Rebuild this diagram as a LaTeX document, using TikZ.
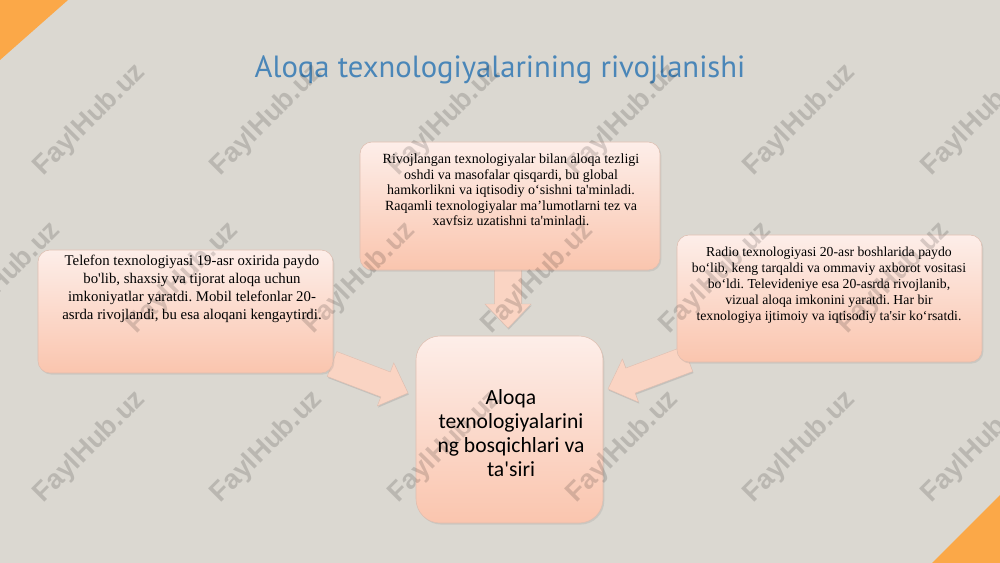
\documentclass[tikz,border=0pt]{standalone}
\usepackage{fontspec}
\setmainfont{Liberation Serif}
\newfontfamily\calfont{Carlito}
\newfontfamily\titlefont{PT Sans}
\newfontfamily\wmfont{Liberation Sans}
\usetikzlibrary{calc,shadows}
\definecolor{bgc}{RGB}{219,216,209}
\definecolor{orng}{RGB}{251,168,72}
\definecolor{titleblue}{RGB}{74,134,184}
\definecolor{boxtop}{RGB}{253,238,233}
\definecolor{boxbot}{RGB}{250,197,174}
\definecolor{boxline}{RGB}{222,190,176}
\definecolor{arrowfill}{RGB}{250,212,195}
\tikzset{
  box/.style={rectangle, rounded corners=9pt, top color=boxtop, bottom color=boxbot,
    draw=boxline, line width=0.4pt,
    drop shadow={opacity=0.18, shadow xshift=1pt, shadow yshift=-1.2pt}},
  txt/.style={align=center, inner sep=0pt, text=black},
  blockarrow/.style={fill=arrowfill, draw=boxline, line width=0.3pt,
    drop shadow={opacity=0.25, shadow xshift=0.6pt, shadow yshift=-1.2pt}},
  wm/.style={font=\wmfont\bfseries\fontsize{20.5}{20.5}\selectfont, text=black, text opacity=0.15, rotate=45, inner sep=0pt}
}
\newcommand{\blockarr}[2]{%
  \path[blockarrow]
    ($(#1)!10pt!90:(#2)$) --
    ($($(#2)!18pt!(#1)$)!10pt!-90:(#1)$) --
    ($($(#2)!18pt!(#1)$)!17.25pt!-90:(#1)$) --
    (#2) --
    ($($(#2)!18pt!(#1)$)!17.25pt!90:(#1)$) --
    ($($(#2)!18pt!(#1)$)!10pt!90:(#1)$) --
    ($(#1)!10pt!-90:(#2)$) -- cycle;}
\begin{document}
\frenchspacing
\begin{tikzpicture}[x=0.75pt,y=-0.75pt]
\useasboundingbox (0,0) rectangle (1000,563);
\fill[bgc] (0,0) rectangle (1000,563);
\fill[orng] (0,0) -- (68,0) -- (0,60) -- cycle;
\fill[orng] (1000,495) -- (1000,563) -- (932,563) -- cycle;

\node[font=\titlefont\fontsize{23}{27}\selectfont, text=titleblue, inner sep=0pt] (title) at (500,70) {Aloqa texnologiyalarining rivojlanishi};

% arrow end points
\coordinate (a1s) at (508,266);
\coordinate (a1t) at (508,328);
\coordinate (a2s) at (332,364);
\coordinate (a2t) at (408,393);
\coordinate (a3s) at (688,359);
\coordinate (a3t) at (608,389);
\blockarr{a1s}{a1t}
\blockarr{a2s}{a2t}
\blockarr{a3s}{a3t}

\node[box, minimum width=225pt, minimum height=96pt] (topbox) at (510,206) {};
\node[box, minimum width=221.25pt, minimum height=92.25pt] (leftbox) at (185.5,311.5) {};
\node[box, minimum width=228.75pt, minimum height=95.25pt] (rightbox) at (829.5,298.5) {};
\node[box, rounded corners=18pt, minimum width=140.25pt, minimum height=140.25pt] (centerbox) at (509.5,429.5) {};

\node[txt, font=\fontsize{10.5}{11.6}\selectfont] (toptext) at (511,190) {Rivojlangan texnologiyalar bilan aloqa tezligi\\ oshdi va masofalar qisqardi, bu global\\ hamkorlikni va iqtisodiy o‘sishni ta\textquotesingle minladi.\\ Raqamli texnologiyalar ma’lumotlarni tez va\\ xavfsiz uzatishni ta\textquotesingle minladi.};
\node[txt, font=\fontsize{11.1}{13.5}\selectfont] (lefttext) at (192,289) {Telefon texnologiyasi 19-asr oxirida paydo\\ bo\textquotesingle lib, shaxsiy va tijorat aloqa uchun\\ imkoniyatlar yaratdi. Mobil telefonlar 20-\\ asrda rivojlandi, bu esa aloqani kengaytirdi.};
\node[txt, font=\fontsize{10.3}{12}\selectfont] (righttext) at (829,285) {Radio texnologiyasi 20-asr boshlarida paydo\\ bo‘lib, keng tarqaldi va ommaviy axborot vositasi\\ bo‘ldi. Televideniye esa 20-asrda rivojlanib,\\ vizual aloqa imkonini yaratdi. Har bir\\ texnologiya ijtimoiy va iqtisodiy ta\textquotesingle sir ko‘rsatdi.};
\node[txt, font=\calfont\fontsize{16.2}{18}\selectfont] (centertext) at (511,433) {Aloqa\\ texnologiyalarini\\ ng bosqichlari va\\ ta\textquotesingle siri};

% watermarks
\foreach \x [count=\i] in {90,267,445,623,800,978} {
  \node[wm] (wma\i) at (\x,120) {FaylHub.uz};
  \node[wm] (wmc\i) at (\x,447) {FaylHub.uz};
}
\foreach \x [count=\i] in {5,183,360,538,716,894} {
  \node[wm] (wmb\i) at (\x,278) {FaylHub.uz};
}
\end{tikzpicture}
\end{document}
